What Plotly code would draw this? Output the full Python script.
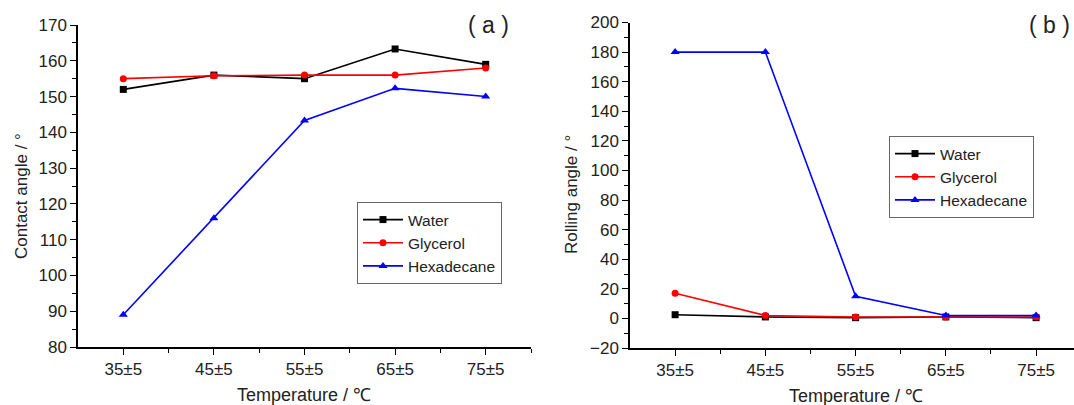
import plotly.graph_objects as go

categories = ["35±5", "45±5", "55±5", "65±5", "75±5"]
xpos = [0, 1, 2, 3, 4]

contact_water = [152, 156, 155, 163.3, 159]
contact_glycerol = [155, 155.8, 156, 156, 158]
contact_hexadecane = [89, 116, 143.3, 152.3, 150]

rolling_water = [2.5, 1, 0.5, 1, 0.5]
rolling_glycerol = [17, 2, 1, 1, 1]
rolling_hexadecane = [180, 180, 15, 2, 2]

W, H = 1074, 405
FONT = "Liberation Sans, Arial, sans-serif"

fig = go.Figure()

series = [
    ("Water", "black", "square", 7),
    ("Glycerol", "red", "circle", 7),
    ("Hexadecane", "blue", "triangle-up", 8),
]

for (name, color, sym, ms), ys in zip(series, [contact_water, contact_glycerol, contact_hexadecane]):
    fig.add_trace(go.Scatter(x=xpos, y=ys, name=name, mode="lines+markers",
                             line=dict(color=color, width=1.6),
                             marker=dict(symbol=sym, size=ms, color=color),
                             xaxis="x", yaxis="y", legend="legend"))
for (name, color, sym, ms), ys in zip(series, [rolling_water, rolling_glycerol, rolling_hexadecane]):
    fig.add_trace(go.Scatter(x=xpos, y=ys, name=name, mode="lines+markers",
                             line=dict(color=color, width=1.6),
                             marker=dict(symbol=sym, size=ms, color=color),
                             xaxis="x2", yaxis="y2", legend="legend2"))

axis_common = dict(showline=True, linecolor="black", linewidth=1.5, ticks="outside",
                   ticklen=6, tickwidth=1.2, tickcolor="black", showgrid=False,
                   zeroline=False, automargin=False,
                   tickfont=dict(family=FONT, size=17, color="#222"))

leg_common = dict(xanchor="left", yanchor="top", bgcolor="white", bordercolor="#666",
                  borderwidth=1, font=dict(family=FONT, size=15.5, color="#222"),
                  tracegroupgap=0, itemwidth=40, itemsizing="trace")

fig.update_layout(
    template="none",
    width=W, height=H,
    margin=dict(l=0, r=0, t=0, b=0, pad=0, autoexpand=False),
    paper_bgcolor="white", plot_bgcolor="white",
    font=dict(family=FONT, size=16, color="#222"),
    xaxis=dict(domain=[78 / W, 531 / W], range=[-0.5, 4.5], tickvals=xpos, ticktext=categories,
               minor=dict(tickvals=[0.5, 1.5, 2.5, 3.5, 4.5], ticks="outside", ticklen=4, tickcolor="black"),
               anchor="y", **axis_common),
    yaxis=dict(domain=[1 - 347 / H, 1 - 25 / H], range=[80, 170], dtick=10,
               minor=dict(dtick=5, ticks="outside", ticklen=4, tickcolor="black"),
               anchor="x", **axis_common),
    xaxis2=dict(domain=[630 / W, 1.0], range=[-0.5, 4.42], tickvals=xpos, ticktext=categories,
                minor=dict(tickvals=[0.5, 1.5, 2.5, 3.5], ticks="outside", ticklen=4, tickcolor="black"),
                anchor="y2", **axis_common),
    yaxis2=dict(domain=[1 - 348 / H, 1 - 22.5 / H], range=[-20, 200], dtick=20,
                minor=dict(dtick=10, ticks="outside", ticklen=4, tickcolor="black"),
                anchor="x2", **axis_common),
    legend=dict(x=357 / W, y=1 - 202 / H, **leg_common),
    legend2=dict(x=889 / W, y=1 - 136 / H, **leg_common),
    showlegend=True,
)

ann = [
    dict(text="( a )", x=488 / W, y=1 - 25 / H, size=23),
    dict(text="( b )", x=1049 / W, y=1 - 25 / H, size=23),
    dict(text="Temperature / ℃", x=304 / W, y=1 - 395 / H, size=18),
    dict(text="Temperature / ℃", x=856 / W, y=1 - 396 / H, size=18),
]
for a in ann:
    fig.add_annotation(text=a["text"], x=a["x"], y=a["y"], xref="paper", yref="paper",
                       showarrow=False, xanchor="center", yanchor="middle",
                       font=dict(family=FONT, size=a["size"], color="#222"))
fig.add_annotation(text="Contact angle / °", x=21 / W, y=1 - 196 / H, xref="paper", yref="paper",
                   showarrow=False, textangle=-90, xanchor="center", yanchor="middle",
                   font=dict(family=FONT, size=17, color="#222"))
fig.add_annotation(text="Rolling angle / °", x=572 / W, y=1 - 195 / H, xref="paper", yref="paper",
                   showarrow=False, textangle=-90, xanchor="center", yanchor="middle",
                   font=dict(family=FONT, size=17, color="#222"))

fig.write_html("out.html")
